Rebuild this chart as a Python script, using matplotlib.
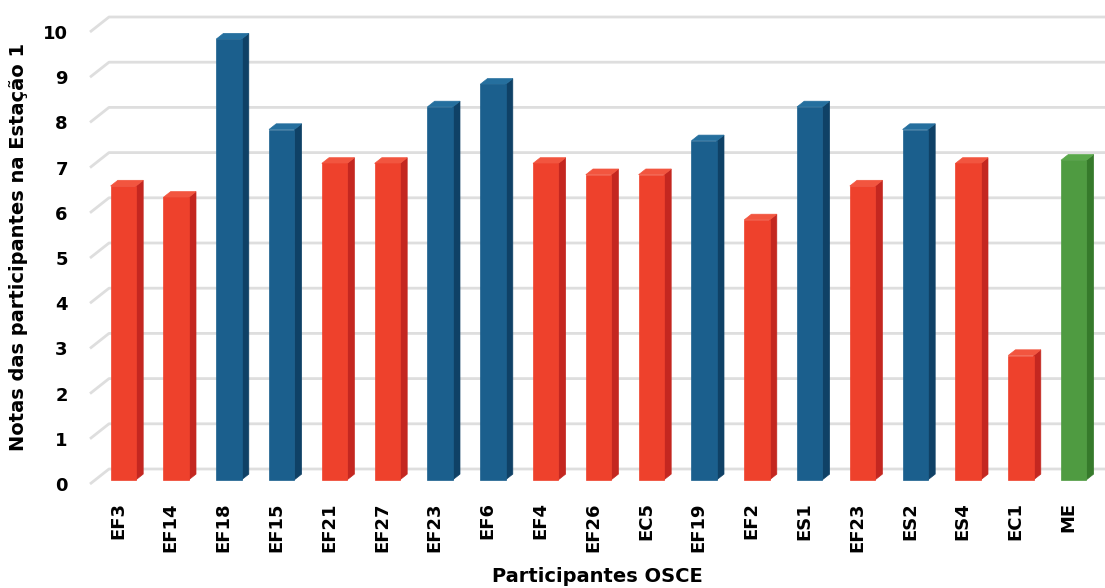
import matplotlib
matplotlib.use("Agg")
import matplotlib.pyplot as plt
from matplotlib.patches import Polygon

participants = ["EF3", "EF14", "EF18", "EF15", "EF21", "EF27", "EF23", "EF6", "EF4",
                "EF26", "EC5", "EF19", "EF2", "ES1", "EF23", "ES2", "ES4", "EC1", "ME"]
grades = [6.5, 6.25, 9.75, 7.75, 7, 7, 8.25, 8.75, 7,
          6.75, 6.75, 7.5, 5.75, 8.25, 6.5, 7.75, 7, 2.75, 7.07]
groups = ["r", "r", "b", "b", "r", "r", "b", "b", "r",
          "r", "r", "b", "r", "b", "r", "b", "r", "r", "g"]
yticks = list(range(11))

# front / side / top shades for each group
shades = {
    "r": ("#ee412c", "#c42720", "#f2553f"),
    "b": ("#1b5f8d", "#0f4166", "#256f9e"),
    "g": ("#4f9b41", "#367a2b", "#5aa84b"),
}

W, H = 1105, 588
fig = plt.figure(figsize=(W / 100, H / 100), dpi=100)

# front plane of the 3D box in pixels
px_left, px_right = 90, 1105
px_zero, px_per_unit = 484, 45.2
x_lo = -0.53
x_per_px = 1 / 52.8
x_hi = x_lo + (px_right - px_left) * x_per_px
y_hi = 10.6
ax = fig.add_axes([px_left / W, 1 - px_zero / H,
                   (px_right - px_left) / W, y_hi * px_per_unit / H])
ax.set_xlim(x_lo, x_hi)
ax.set_ylim(0, y_hi)
for s in ax.spines.values():
    s.set_visible(False)

# depth of the box in data units
ddx = 19 * x_per_px
ddy = 15 / px_per_unit

# back wall gridlines + left wall slants
for v in yticks:
    ax.plot([x_lo, x_lo + ddx, x_hi + ddx], [v, v + ddy, v + ddy],
            color="#dedede", lw=2.0, zorder=1, clip_on=False,
            solid_capstyle="butt")

# bars: front face sits a bit behind the front plane
f0 = 0.28
bd = 0.38
w = 0.48
xs = list(range(len(grades)))
fronts = [shades[g][0] for g in groups]
ax.bar([x + f0 * ddx for x in xs], grades, width=w, bottom=f0 * ddy,
       color=fronts, edgecolor=fronts, linewidth=0.5, zorder=4, clip_on=False)
for x, v, g in zip(xs, grades, groups):
    front, side, top = shades[g]
    x0 = x + f0 * ddx - w / 2
    x1 = x0 + w
    y0 = f0 * ddy
    yt = y0 + v
    ox, oy = bd * ddx, bd * ddy
    ax.add_patch(Polygon([(x1, y0), (x1 + ox, y0 + oy), (x1 + ox, yt + oy), (x1, yt)],
                         closed=True, facecolor=side, edgecolor=side, lw=0.5,
                         zorder=3, clip_on=False))
    ax.add_patch(Polygon([(x0, yt), (x1, yt), (x1 + ox, yt + oy), (x0 + ox, yt + oy)],
                         closed=True, facecolor=top, edgecolor=top, lw=0.5,
                         zorder=3, clip_on=False))

ax.set_yticks(yticks)
ax.set_yticklabels([str(t) for t in yticks], fontsize=13, fontweight="bold")
ax.set_xticks(xs)
ax.set_xticklabels(participants, rotation=90, fontsize=13, fontweight="bold")
ax.tick_params(axis="y", length=0, pad=16)
ax.tick_params(axis="x", length=0, pad=13)

ax.set_ylabel("Notas das participantes na Estação 1", fontsize=14,
              fontweight="bold")
ax.set_xlabel("Participantes OSCE", fontsize=14, fontweight="bold", labelpad=11)
ax.yaxis.set_label_coords(-62 / (px_right - px_left), 0.495)

fig.savefig("out.png", dpi=100)
